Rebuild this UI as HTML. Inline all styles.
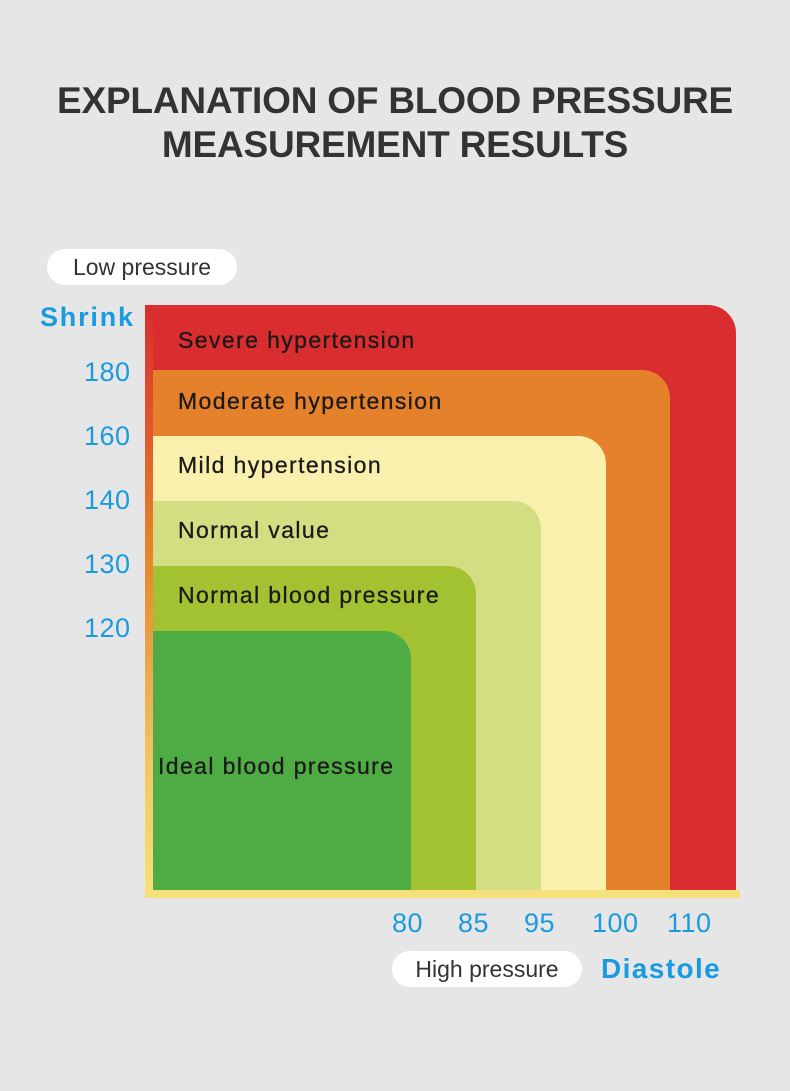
<!DOCTYPE html>
<html><head><meta charset="utf-8"><style>
body{margin:0;width:790px;height:1091px;background:#e6e6e6;position:relative;overflow:hidden;font-family:"Liberation Sans","DejaVu Sans",sans-serif}
.a{position:absolute}
.t{left:0;width:790px;text-align:center;font-weight:bold;font-size:37px;color:#333;letter-spacing:-0.2px}
.r{position:absolute;left:153px;bottom:201px;border-top-right-radius:28px}
.l{position:absolute;font-size:23px;color:#1a1a1a;white-space:nowrap;letter-spacing:1.4px;-webkit-text-stroke:0.3px #1a1a1a}
.n{position:absolute;font-size:27px;color:#1a9be0;letter-spacing:0.5px}
.pill{position:absolute;background:#fff;border-radius:18px;font-size:23px;color:#333;text-align:center}
</style></head><body>
<div class="a t" style="top:80px">EXPLANATION OF BLOOD PRESSURE</div>
<div class="a t" style="top:124px">MEASUREMENT RESULTS</div>
<div class="pill" style="left:47px;top:249px;width:190px;height:36px;line-height:36px">Low pressure</div>
<div class="a" style="left:40px;top:302px;font-size:27px;font-weight:bold;color:#1a9be0;letter-spacing:1.8px">Shrink</div>
<div class="n" style="left:84px;top:357px">180</div>
<div class="n" style="left:84px;top:421px">160</div>
<div class="n" style="left:84px;top:485px">140</div>
<div class="n" style="left:84px;top:549px">130</div>
<div class="n" style="left:84px;top:613px">120</div>
<div class="r" style="left:145px;width:591px;height:585px;background:#d92d2f"></div>
<div class="r" style="width:517px;height:520px;background:#e5812a"></div>
<div class="r" style="width:453px;height:454px;background:#f9f0ae"></div>
<div class="r" style="width:388px;height:389px;background:#d3dd82"></div>
<div class="r" style="width:323px;height:324px;background:#a3c232"></div>
<div class="r" style="width:258px;height:259px;background:#4fab44"></div>
<div class="a" style="left:145px;top:305px;width:8px;height:593px;background:linear-gradient(#d92d2f,#e5812a 40%,#f3c96a 80%,#f7e07a)"></div>
<div class="a" style="left:145px;top:890px;width:595px;height:8px;background:#f5e07c"></div>
<div class="l" style="left:178px;top:327px">Severe hypertension</div>
<div class="l" style="left:178px;top:388px">Moderate hypertension</div>
<div class="l" style="left:178px;top:452px">Mild hypertension</div>
<div class="l" style="left:178px;top:517px">Normal value</div>
<div class="l" style="left:178px;top:582px">Normal blood pressure</div>
<div class="l" style="left:158px;top:753px">Ideal blood pressure</div>
<div class="n" style="left:392px;top:908px">80</div>
<div class="n" style="left:458px;top:908px">85</div>
<div class="n" style="left:524px;top:908px">95</div>
<div class="n" style="left:592px;top:908px">100</div>
<div class="n" style="left:667px;top:908px">110</div>
<div class="pill" style="left:392px;top:951px;width:190px;height:36px;line-height:36px">High pressure</div>
<div class="a" style="left:601px;top:953px;font-size:28px;font-weight:bold;color:#1a9be0;letter-spacing:1.4px">Diastole</div>
</body></html>
